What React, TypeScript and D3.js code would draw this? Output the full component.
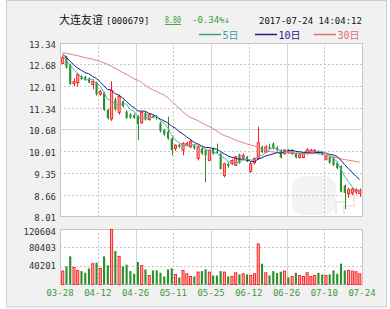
import React, { useEffect, useRef } from "react";
import * as d3 from "d3";

const dateLabels = ["03-28", "04-12", "04-26", "05-11", "05-25", "06-12", "06-26", "07-10", "07-24"];
const priceTicks = [13.34, 12.68, 12.01, 11.34, 10.68, 10.01, 9.35, 8.66, 8.01];
const volumeTicks = [120604, 80403, 40201];

const opens = [
    12.71, 12.91, 12.66, 12.09, 12.12, 12.32, 12.3, 12.25, 12.06, 12.12,
    11.76, 11.8, 11.28, 11.0, 11.6, 11.2, 11.54, 11.23, 11.14, 11.12,
    11.08, 10.88, 11.18, 10.98, 11.1, 11.08, 10.87, 10.66, 10.61, 10.4,
    10.09, 10.2, 10.04, 10.19, 10.14, 10.19, 9.78, 10.09, 10.04, 9.72,
    10.09, 10.0, 9.93, 9.26, 9.62, 9.62, 9.57, 9.9, 9.8, 9.83,
    9.38, 9.65, 9.78, 10.14, 9.98, 10.14, 10.24, 10.12, 10.04, 9.93,
    10.04, 9.93, 9.93, 9.81, 9.81, 9.93, 9.95, 9.98, 10.01, 9.98,
    9.76, 9.83, 9.8, 9.65, 9.55, 8.95, 8.7, 8.72, 8.75, 8.7,
];
const highs = [
    12.95, 12.95, 12.7, 12.25, 12.4, 12.35, 12.33, 12.28, 12.22, 12.15,
    11.9, 11.84, 11.32, 12.16, 11.66, 11.75, 11.58, 11.27, 11.18, 11.16,
    11.12, 11.25, 11.22, 11.18, 11.13, 11.12, 10.92, 10.7, 11.07, 10.44,
    10.22, 10.23, 10.28, 10.3, 10.38, 10.22, 10.19, 10.12, 10.07, 10.07,
    10.12, 10.24, 9.96, 9.65, 9.66, 9.76, 9.86, 9.93, 9.93, 9.86,
    9.7, 9.82, 10.76, 10.18, 10.19, 10.24, 10.28, 10.16, 10.07, 10.07,
    10.07, 10.06, 9.96, 9.93, 9.96, 10.1, 10.08, 10.07, 10.04, 10.01,
    9.9, 9.86, 9.83, 9.68, 9.57, 8.98, 8.88, 8.88, 8.86, 8.86,
];
const lows = [
    12.68, 12.55, 12.05, 12.01, 12.0, 12.2, 12.18, 12.1, 11.92, 11.72,
    11.72, 11.25, 10.98, 10.94, 11.25, 11.13, 11.35, 11.0, 11.0, 11.0,
    10.35, 10.85, 10.95, 10.95, 11.02, 10.98, 10.58, 10.48, 10.36, 9.88,
    10.02, 10.1, 9.88, 10.15, 10.1, 10.05, 9.72, 9.9, 9.05, 9.7,
    9.9, 9.92, 9.44, 9.2, 9.5, 9.58, 9.55, 9.62, 9.76, 9.67,
    9.34, 9.6, 9.75, 9.95, 9.95, 10.06, 10.06, 10.01, 9.78, 9.9,
    9.92, 9.9, 9.79, 9.78, 9.79, 9.9, 9.92, 9.95, 9.92, 9.87,
    9.72, 9.62, 9.55, 9.45, 8.74, 8.22, 8.57, 8.66, 8.68, 8.6,
];
const closes = [
    12.89, 12.58, 12.08, 12.15, 12.37, 12.23, 12.2, 12.12, 12.16, 11.76,
    11.84, 11.28, 11.03, 11.87, 11.3, 11.7, 11.39, 11.03, 11.05, 11.03,
    10.84, 11.2, 10.98, 11.13, 11.05, 11.02, 10.62, 10.52, 10.4, 10.04,
    10.19, 10.14, 10.24, 10.24, 10.3, 10.09, 10.14, 9.93, 9.88, 10.04,
    9.93, 9.95, 9.46, 9.62, 9.55, 9.72, 9.83, 9.65, 9.88, 9.7,
    9.62, 9.78, 10.27, 9.98, 10.14, 10.09, 10.09, 10.04, 9.81, 10.04,
    9.95, 10.03, 9.81, 9.9, 9.93, 10.05, 10.04, 10.03, 9.94, 9.9,
    9.86, 9.65, 9.58, 9.48, 8.76, 8.72, 8.82, 8.84, 8.82, 8.8,
];
const volumes = [
    29416, 39712, 61774, 37505, 30887, 29416, 25739, 35299, 45595, 47801,
    35299, 61774, 41918, 120604, 73540, 61774, 39712, 43389, 29416, 23533,
    49272, 41918, 33093, 19856, 30887, 30887, 25739, 17650, 33093, 35299,
    22062, 15443, 30887, 23533, 17650, 17650, 27210, 29416, 33093, 27210,
    19856, 19856, 29416, 27210, 17650, 17650, 25739, 22062, 23533, 22062,
    19856, 23533, 88983, 45595, 25739, 19856, 29416, 25004, 27945, 29416,
    15443, 17650, 25739, 19856, 17650, 25739, 17650, 19856, 25739, 22062,
    19856, 22062, 30887, 23533, 45595, 30887, 30887, 29416, 27945, 23533,
];
const ma5 = [
    12.94, 12.82, 12.66, 12.53, 12.41, 12.28, 12.21, 12.21, 12.22, 12.09,
    12.02, 11.83, 11.61, 11.56, 11.46, 11.44, 11.46, 11.46, 11.29, 11.24,
    11.07, 11.03, 11.02, 11.04, 11.04, 11.08, 10.96, 10.87, 10.72, 10.52,
    10.35, 10.26, 10.2, 10.17, 10.22, 10.2, 10.2, 10.14, 10.07, 10.02,
    9.98, 9.95, 9.85, 9.8, 9.7, 9.66, 9.64, 9.67, 9.73, 9.76,
    9.74, 9.73, 9.85, 9.87, 9.96, 10.05, 10.11, 10.07, 10.03, 10.01,
    9.99, 9.97, 9.93, 9.95, 9.92, 9.94, 9.95, 9.99, 10.0, 9.99,
    9.95, 9.88, 9.79, 9.69, 9.47, 9.24, 9.07, 8.92, 8.79, 8.8,
];
const ma10 = [
    13.0, 12.9, 12.78, 12.67, 12.57, 12.5, 12.43, 12.39, 12.31, 12.25,
    12.15, 12.02, 11.91, 11.89, 11.78, 11.73, 11.65, 11.54, 11.43, 11.35,
    11.25, 11.24, 11.24, 11.17, 11.14, 11.07, 11.0, 10.94, 10.88, 10.78,
    10.72, 10.61, 10.54, 10.45, 10.37, 10.28, 10.23, 10.17, 10.12, 10.12,
    10.09, 10.07, 10.0, 9.93, 9.86, 9.82, 9.79, 9.76, 9.76, 9.73,
    9.7, 9.68, 9.76, 9.8, 9.86, 9.89, 9.92, 9.96, 9.95, 9.99,
    10.02, 10.04, 10.0, 9.99, 9.97, 9.97, 9.96, 9.96, 9.97, 9.96,
    9.95, 9.91, 9.89, 9.85, 9.73, 9.6, 9.47, 9.36, 9.24, 9.13,
];
const ma30 = [
    13.05, 13.02, 13.0, 12.97, 12.95, 12.92, 12.89, 12.87, 12.84, 12.81,
    12.77, 12.73, 12.68, 12.62, 12.56, 12.5, 12.43, 12.38, 12.31, 12.24,
    12.19, 12.13, 12.04, 11.96, 11.9, 11.85, 11.79, 11.74, 11.66, 11.55,
    11.44, 11.33, 11.22, 11.13, 11.05, 11.0, 10.95, 10.88, 10.82, 10.77,
    10.71, 10.63, 10.55, 10.49, 10.45, 10.4, 10.35, 10.31, 10.27, 10.23,
    10.2, 10.17, 10.12, 10.07, 10.03, 10.0, 9.98, 9.97, 9.97, 9.96,
    9.96, 9.96, 9.95, 9.95, 9.94, 9.94, 9.93, 9.93, 9.92, 9.91,
    9.89, 9.86, 9.83, 9.8, 9.77, 9.75, 9.73, 9.71, 9.69, 9.67,
];

const monoFont = "'DejaVu Sans Mono', 'Liberation Mono', monospace";
const cjkFont = "'Noto Sans CJK SC', sans-serif";
const RED = "#ff1a1a";
const RED_FILL = "#ffa8a8";
const GREEN = "#2b8f2b";
const LABEL_GREEN = "#3a9a3a";

const KLineChart = () => {
    const svgRef = useRef(null);

    useEffect(() => {
        const svg = d3.select(svgRef.current);
        svg.selectAll("*").remove();

        const left = 60;
        const right = 362;
        const priceTop = 43;
        const priceBottom = 216;
        const volTop = 229;
        const volBottom = 284;

        const x = d3
            .scaleBand<number>()
            .domain(d3.range(closes.length))
            .range([left, right])
            .padding(0.3);
        const cx = (i: number) => (x(i) as number) + x.bandwidth() / 2;
        const xTick = d3.scalePoint<string>().domain(dateLabels).range([left, right]);
        const yPrice = d3.scaleLinear().domain([8.01, 13.34]).range([priceBottom, priceTop]);
        const yVol = d3.scaleLinear().domain([0, 120604]).range([volBottom, volTop]);

        // outer frame
        svg.append("rect")
            .attr("x", 6.5)
            .attr("y", 0.5)
            .attr("width", 380)
            .attr("height", 306.5)
            .attr("fill", "#f2f1f1")
            .attr("stroke", "#cdcdcd");

        // header
        const header = svg.append("g").attr("font-size", 9).attr("font-family", monoFont);
        header.append("text")
            .attr("x", 59)
            .attr("y", 24)
            .attr("font-family", cjkFont)
            .attr("font-size", 11)
            .attr("fill", "#111")
            .text("大连友谊");
        header.append("text").attr("x", 106).attr("y", 24).attr("fill", "#111").text("[000679]");
        header.append("text")
            .attr("x", 165)
            .attr("y", 23)
            .attr("fill", LABEL_GREEN)
            .attr("text-decoration", "underline")
            .attr("textLength", 16)
            .attr("lengthAdjust", "spacingAndGlyphs")
            .text("8.80");
        header.append("text")
            .attr("x", 192)
            .attr("y", 23)
            .attr("fill", LABEL_GREEN)
            .text("-0.34%↓");
        header.append("text")
            .attr("x", 259)
            .attr("y", 24)
            .attr("fill", "#111")
            .text("2017-07-24 14:04:12");

        const legend = [
            { name: "5", color: "#3a9e9a", x: 199 },
            { name: "10", color: "#1c1c8c", x: 255 },
            { name: "30", color: "#dd7070", x: 314 },
        ];
        legend.forEach((d) => {
            svg.append("line")
                .attr("x1", d.x)
                .attr("x2", d.x + 22)
                .attr("y1", 34.5)
                .attr("y2", 34.5)
                .attr("stroke", d.color)
                .attr("stroke-width", 1.5);
            const t = svg.append("text")
                .attr("x", d.x + 23.5)
                .attr("y", 39)
                .attr("fill", d.color)
                .attr("font-size", 10);
            t.append("tspan").attr("font-family", monoFont).text(d.name);
            t.append("tspan").attr("font-family", cjkFont).text("日");
        });

        // plot backgrounds
        [
            [priceTop, priceBottom],
            [volTop, volBottom],
        ].forEach(([t, b]) => {
            svg.append("rect")
                .attr("x", left + 0.5)
                .attr("y", t + 0.5)
                .attr("width", right - left)
                .attr("height", b - t)
                .attr("fill", "#fff")
                .attr("stroke", "#c6c6c6");
        });

        // faint watermark
        const wm = svg.append("g").attr("opacity", 0.6);
        wm.append("rect")
            .attr("x", 292)
            .attr("y", 176)
            .attr("width", 44)
            .attr("height", 39)
            .attr("rx", 12)
            .attr("fill", "#ececec");
        wm.append("path")
            .attr("d", "M336,214 v-12 h10 v-8 h8 v12 h-10 v8")
            .attr("fill", "none")
            .attr("stroke", "#f4d8d8")
            .attr("stroke-width", 2);

        // grid
        const grid = svg.append("g");
        priceTicks.slice(1, -1).forEach((t, i) => {
            grid.append("line")
                .attr("x1", left)
                .attr("x2", right)
                .attr("y1", Math.round(yPrice(t)) + 0.5)
                .attr("y2", Math.round(yPrice(t)) + 0.5)
                .attr("stroke", i === 3 ? "#d4d4d4" : "#c8c8c8")
                .attr("stroke-dasharray", i === 3 ? null : "2,2");
        });
        volumeTicks.slice(1).forEach((t) => {
            grid.append("line")
                .attr("x1", left)
                .attr("x2", right)
                .attr("y1", Math.round(yVol(t)) + 0.5)
                .attr("y2", Math.round(yVol(t)) + 0.5)
                .attr("stroke", "#c8c8c8")
                .attr("stroke-dasharray", "2,2");
        });
        dateLabels.slice(1, -1).forEach((d, i) => {
            const xx = Math.round(xTick(d) as number) + 0.5;
            [
                [priceTop, priceBottom],
                [volTop, volBottom],
            ].forEach(([t, b]) => {
                grid.append("line")
                    .attr("x1", xx)
                    .attr("x2", xx)
                    .attr("y1", t)
                    .attr("y2", b)
                    .attr("stroke", i % 2 === 1 ? "#d4d4d4" : "#c8c8c8")
                    .attr("stroke-dasharray", i % 2 === 1 ? null : "2,2");
            });
        });

        // axis labels
        svg.append("g")
            .selectAll("text")
            .data(priceTicks)
            .enter()
            .append("text")
            .attr("x", 56)
            .attr("y", (d) => yPrice(d) + 5)
            .attr("text-anchor", "end")
            .attr("font-family", monoFont)
            .attr("font-size", 9)
            .attr("fill", "#333")
            .text((d) => d.toFixed(2));

        svg.append("g")
            .selectAll("text")
            .data(volumeTicks)
            .enter()
            .append("text")
            .attr("x", 56)
            .attr("y", (d) => yVol(d) + (d === 120604 ? 6 : 3.5))
            .attr("text-anchor", "end")
            .attr("font-family", monoFont)
            .attr("font-size", 9)
            .attr("fill", "#333")
            .text((d) => d);

        svg.append("g")
            .selectAll("text")
            .data(dateLabels)
            .enter()
            .append("text")
            .attr("x", (d) => xTick(d) as number)
            .attr("y", 296)
            .attr("text-anchor", "middle")
            .attr("font-family", monoFont)
            .attr("font-size", 9)
            .attr("fill", LABEL_GREEN)
            .text((d) => d);

        const up = (i: number) => closes[i] >= opens[i];

        // volume bars
        svg.append("g")
            .selectAll("rect")
            .data(volumes)
            .enter()
            .append("rect")
            .attr("x", (_d, i) => (x(i) as number) + 0.5)
            .attr("y", (d) => yVol(d) + 0.5)
            .attr("width", x.bandwidth() - 0.5)
            .attr("height", (d) => volBottom - yVol(d))
            .attr("fill", (_d, i) => (up(i) ? RED_FILL : GREEN))
            .attr("stroke", (_d, i) => (up(i) ? RED : "none"))
            .attr("stroke-width", 0.9);

        // candles
        const candles = svg
            .append("g")
            .selectAll("g")
            .data(closes.map((c, i) => ({ o: opens[i], h: highs[i], l: lows[i], c, i })))
            .enter()
            .append("g");
        candles
            .append("line")
            .attr("x1", (d) => Math.round(cx(d.i)) + 0.5)
            .attr("x2", (d) => Math.round(cx(d.i)) + 0.5)
            .attr("y1", (d) => yPrice(d.h))
            .attr("y2", (d) => yPrice(d.l))
            .attr("stroke", (d) => (up(d.i) ? RED : GREEN))
            .attr("stroke-width", 1);
        candles
            .append("rect")
            .attr("x", (d) => (x(d.i) as number) + 0.5)
            .attr("y", (d) => yPrice(Math.max(d.o, d.c)))
            .attr("width", x.bandwidth() - 0.5)
            .attr("height", (d) => Math.max(1, Math.abs(yPrice(d.o) - yPrice(d.c))))
            .attr("fill", (d) => (up(d.i) ? RED_FILL : GREEN))
            .attr("stroke", (d) => (up(d.i) ? RED : "none"))
            .attr("stroke-width", 0.9);

        // moving averages
        const maLine = d3
            .line<number>()
            .x((_d, i) => cx(i))
            .y((d) => yPrice(d));
        [
            { data: ma30, color: "#e08282" },
            { data: ma10, color: "#1c1c8c" },
            { data: ma5, color: "#52b2aa" },
        ].forEach((m) => {
            svg.append("path")
                .attr("d", maLine(m.data))
                .attr("fill", "none")
                .attr("stroke", m.color)
                .attr("stroke-width", 1);
        });
    }, []);

    return (
        <div style={{ position: "absolute", left: 0, top: 0 }}>
            <svg ref={svgRef} width={390} height={309} style={{ display: "block" }}></svg>
        </div>
    );
};

export default function App() {
    return <KlineWrapper />;
}

const KlineWrapper = () => <KLineChart />;
